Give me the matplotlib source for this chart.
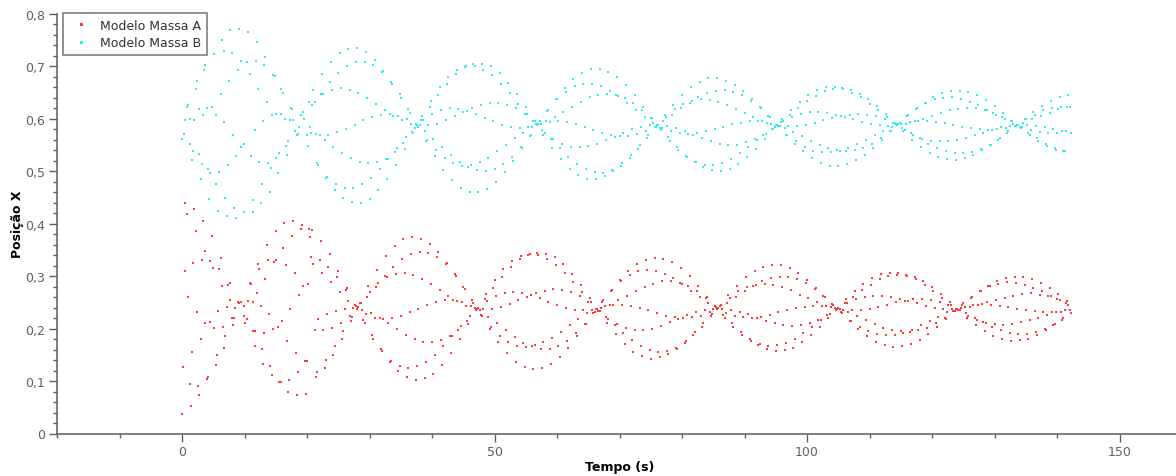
#!/usr/bin/env python3

import matplotlib
matplotlib.use('agg')

import numpy as np
import matplotlib.pyplot as plt
from matplotlib.ticker import MultipleLocator, FuncFormatter

# --- Modelo Massa A: inicio do registo (tempo lido ponto a ponto) ---
massa_a_t = [
	0.0, 0.11, 0.43, 0.53, 0.85, 0.96, 1.28, 1.39, 1.6, 1.81, 1.92, 2.24, 2.35, 2.61, 2.77,
	3.04, 3.2, 3.31, 3.63, 3.73, 3.95, 4.1, 4.43, 4.53, 4.8, 5.01, 5.17, 5.39, 5.6, 5.81,
	5.97, 6.24, 6.35, 6.61, 6.77, 6.93, 7.15, 7.31, 7.68, 7.73, 8.0, 8.27, 8.21, 8.9, 9.17,
	9.49, 9.87, 8.53, 9.97, 10.08,
	16.37, 17.76, 19.15, 18.99, 20.32, 14.99, 17.65, 20.43, 13.55, 16.21, 12.16, 13.76, 14.77,
	15.09, 16.69, 12.37, 18.03, 13.28, 10.88, 11.04, 19.41, 20.16, 11.95, 18.77, 10.56, 11.31,
	12.59, 17.28, 13.97, 10.35, 15.95, 15.31, 14.61, 11.41, 11.68, 13.17, 16.8, 11.63, 12.75,
	18.19, 19.68, 19.95, 13.01, 14.13, 18.56, 14.45, 15.57, 15.79, 17.17, 16.91, 18.35, 19.89,
]
massa_a_x = [
	0.038, 0.126, 0.309, 0.440, 0.418, 0.261, 0.095, 0.052, 0.156, 0.325, 0.428, 0.386, 0.231,
	0.090, 0.073, 0.181, 0.331, 0.405, 0.348, 0.210, 0.103, 0.107, 0.212, 0.329, 0.376, 0.316,
	0.201, 0.131, 0.150, 0.234, 0.313, 0.334, 0.281, 0.203, 0.164, 0.186, 0.241, 0.284, 0.287,
	0.254, 0.220, 0.220, 0.206, 0.250, 0.249, 0.250, 0.243, 0.240, 0.224, 0.210,
	0.401, 0.405, 0.397, 0.390, 0.390, 0.386, 0.376, 0.375, 0.360, 0.354, 0.323, 0.331, 0.327,
	0.331, 0.322, 0.313, 0.306, 0.295, 0.287, 0.285, 0.281, 0.285, 0.268, 0.264, 0.252, 0.250,
	0.243, 0.238, 0.228, 0.218, 0.215, 0.204, 0.199, 0.196, 0.196, 0.192, 0.177, 0.166, 0.161,
	0.153, 0.138, 0.139, 0.133, 0.129, 0.118, 0.111, 0.099, 0.099, 0.102, 0.079, 0.073, 0.076,
]

# --- Modelo Massa B: inicio do registo ---
massa_b_t = [
	7.73, 9.17, 6.35, 5.07, 6.67, 8.05, 9.39, 3.73, 8.96, 3.57, 2.35, 7.57, 2.19, 6.24, 0.91,
	0.8, 2.67, 4.0, 4.8, 3.31, 5.39, 0.48, 1.28, 1.97, 6.77, 0.37, 0.05, 8.16, 1.33, 9.49,
	9.97, 1.81, 2.77, 8.69, 1.65, 3.15, 7.36, 4.21, 4.53, 5.92, 3.04, 5.49, 4.37, 6.93, 8.27,
	5.81, 9.87, 7.15, 8.64,
	10.56, 11.95, 10.35, 11.79, 13.28, 13.17, 10.88, 14.61, 14.83, 12.21, 15.89, 16.21, 13.55,
	20.37, 17.39, 17.55, 19.31, 19.04, 14.35, 15.04, 15.79, 16.43, 17.28, 17.81, 13.01, 19.52,
	18.77, 18.08, 20.48, 11.68, 18.35, 18.61, 19.95, 17.01, 16.59, 20.21, 15.57, 16.75, 10.99,
	15.04, 12.32, 13.81, 14.24, 15.41, 12.75, 14.08, 11.41, 12.64, 11.31,
]
massa_b_x = [
	0.769, 0.772, 0.751, 0.724, 0.729, 0.726, 0.710, 0.703, 0.693, 0.693, 0.672, 0.672, 0.657,
	0.648, 0.626, 0.622, 0.619, 0.621, 0.622, 0.607, 0.608, 0.598, 0.599, 0.597, 0.594, 0.572,
	0.562, 0.570, 0.552, 0.547, 0.552, 0.538, 0.533, 0.530, 0.522, 0.514, 0.512, 0.504, 0.497,
	0.499, 0.486, 0.475, 0.448, 0.449, 0.430, 0.424, 0.422, 0.414, 0.411,
	0.766, 0.746, 0.708, 0.711, 0.718, 0.703, 0.686, 0.684, 0.682, 0.657, 0.657, 0.650, 0.632,
	0.632, 0.621, 0.619, 0.614, 0.608, 0.607, 0.610, 0.609, 0.599, 0.597, 0.597, 0.595, 0.599,
	0.584, 0.577, 0.585, 0.578, 0.570, 0.572, 0.570, 0.557, 0.548, 0.548, 0.535, 0.532, 0.530,
	0.526, 0.518, 0.516, 0.506, 0.497, 0.475, 0.461, 0.446, 0.439, 0.423,
]

# --- resto do registo: amostras a cada 0,2 s a partir de t = 20,6 s ---
amostra_t0 = 20.6
amostra_passo = 0.2

amostras_a = [
	0.337, 0.389,
	0.324, 0.198, 0.107, 0.117, 0.218, 0.330, 0.368, 0.307, 0.198, 0.125, 0.140, 0.227, 0.317, 0.342,
	0.288, 0.202, 0.150, 0.167, 0.234, 0.298, 0.310, 0.269, 0.211, 0.180, 0.195, 0.238, 0.274, 0.277,
	0.252, 0.224, 0.214, 0.223, 0.239, 0.246, 0.243, 0.238, 0.241, 0.248, 0.249, 0.236, 0.217, 0.210,
	0.228, 0.260, 0.281, 0.270, 0.229, 0.188, 0.181, 0.221, 0.280, 0.312, 0.287, 0.220, 0.161, 0.158,
	0.219, 0.300, 0.338, 0.299, 0.210, 0.137, 0.139, 0.220, 0.318, 0.357, 0.305, 0.199, 0.119, 0.129,
	0.224, 0.332, 0.370, 0.306, 0.188, 0.107, 0.125, 0.231, 0.342, 0.374, 0.302, 0.180, 0.102, 0.128,
	0.238, 0.346, 0.371, 0.295, 0.175, 0.105, 0.137, 0.245, 0.345, 0.362, 0.285, 0.174, 0.114, 0.150,
	0.251, 0.337, 0.346, 0.273, 0.178, 0.131, 0.167, 0.254, 0.323, 0.325, 0.262, 0.186, 0.154, 0.186,
	0.254, 0.304, 0.301, 0.252, 0.198, 0.180, 0.205, 0.251, 0.280, 0.275, 0.244, 0.215, 0.209, 0.224,
	0.244, 0.254, 0.249, 0.239, 0.235, 0.238, 0.240, 0.235, 0.226, 0.224, 0.237, 0.256, 0.266, 0.253,
	0.223, 0.199, 0.203, 0.238, 0.278, 0.292, 0.263, 0.210, 0.174, 0.186, 0.241, 0.299, 0.313, 0.268,
	0.197, 0.153, 0.174, 0.247, 0.317, 0.329, 0.270, 0.184, 0.137, 0.167, 0.254, 0.332, 0.339, 0.268,
	0.173, 0.126, 0.165, 0.261, 0.341, 0.343, 0.264, 0.166, 0.123, 0.168, 0.267, 0.344, 0.340, 0.258,
	0.161, 0.124, 0.174, 0.272, 0.343, 0.333, 0.251, 0.161, 0.132, 0.183, 0.275, 0.336, 0.321, 0.245,
	0.167, 0.145, 0.194, 0.274, 0.323, 0.306, 0.239, 0.177, 0.163, 0.207, 0.270, 0.305, 0.288, 0.236,
	0.191, 0.185, 0.218, 0.262, 0.283, 0.269, 0.235, 0.209, 0.208, 0.229, 0.251, 0.259, 0.250, 0.236,
	0.229, 0.232, 0.237, 0.238, 0.234, 0.233, 0.240, 0.251, 0.254, 0.243, 0.223, 0.210, 0.219, 0.246,
	0.272, 0.274, 0.246, 0.207, 0.189, 0.208, 0.254, 0.292, 0.290, 0.246, 0.192, 0.170, 0.201, 0.263,
	0.309, 0.302, 0.244, 0.178, 0.156, 0.197, 0.272, 0.323, 0.309, 0.240, 0.167, 0.147, 0.197, 0.280,
	0.331, 0.312, 0.235, 0.159, 0.143, 0.200, 0.286, 0.335, 0.310, 0.230, 0.156, 0.145, 0.205, 0.290,
	0.333, 0.304, 0.225, 0.157, 0.151, 0.212, 0.290, 0.327, 0.296, 0.222, 0.163, 0.162, 0.219, 0.287,
	0.315, 0.285, 0.221, 0.173, 0.176, 0.226, 0.281, 0.300, 0.272, 0.222, 0.187, 0.193, 0.231, 0.271,
	0.281, 0.260, 0.225, 0.204, 0.211, 0.236, 0.258, 0.261, 0.248, 0.231, 0.224, 0.228, 0.238, 0.243,
	0.241, 0.238, 0.239, 0.244, 0.245, 0.238, 0.226, 0.221, 0.230, 0.249, 0.264, 0.259, 0.236, 0.210,
	0.203, 0.225, 0.260, 0.282, 0.271, 0.232, 0.194, 0.188, 0.222, 0.271, 0.298, 0.279, 0.227, 0.180,
	0.177, 0.221, 0.281, 0.310, 0.284, 0.221, 0.169, 0.170, 0.223, 0.290, 0.318, 0.285, 0.215, 0.161,
	0.167, 0.226, 0.296, 0.322, 0.283, 0.210, 0.158, 0.168, 0.231, 0.299, 0.321, 0.279, 0.207, 0.159,
	0.173, 0.235, 0.299, 0.315, 0.273, 0.205, 0.164, 0.181, 0.239, 0.295, 0.306, 0.265, 0.206, 0.174,
	0.191, 0.242, 0.287, 0.293, 0.258, 0.210, 0.187, 0.203, 0.244, 0.276, 0.278, 0.250, 0.217, 0.203,
	0.216, 0.243, 0.263, 0.261, 0.244, 0.226, 0.220, 0.228, 0.241, 0.247, 0.245, 0.239, 0.236, 0.238,
	0.240, 0.237, 0.231, 0.229, 0.236, 0.249, 0.256, 0.249, 0.231, 0.215, 0.215, 0.235, 0.261, 0.272,
	0.256, 0.224, 0.199, 0.203, 0.236, 0.273, 0.286, 0.261, 0.216, 0.186, 0.195, 0.238, 0.284, 0.296,
	0.263, 0.209, 0.175, 0.189, 0.242, 0.294, 0.304, 0.263, 0.202, 0.168, 0.187, 0.246, 0.300, 0.307,
	0.260, 0.197, 0.165, 0.188, 0.250, 0.303, 0.306, 0.257, 0.195, 0.166, 0.192, 0.253, 0.302, 0.301,
	0.252, 0.194, 0.170, 0.198, 0.256, 0.298, 0.294, 0.248, 0.197, 0.179, 0.206, 0.256, 0.290, 0.284,
	0.243, 0.202, 0.190, 0.214, 0.254, 0.279, 0.272, 0.240, 0.211, 0.204, 0.223, 0.251, 0.266, 0.259,
	0.238, 0.221, 0.219, 0.231, 0.245, 0.251, 0.246, 0.238, 0.233, 0.234, 0.237, 0.238, 0.236, 0.235,
	0.239, 0.246, 0.248, 0.242, 0.230, 0.221, 0.225, 0.241, 0.258, 0.261, 0.245, 0.221, 0.207, 0.217,
	0.245, 0.271, 0.272, 0.247, 0.212, 0.195, 0.211, 0.250, 0.282, 0.281, 0.246, 0.203, 0.185, 0.208,
	0.255, 0.290, 0.286, 0.244, 0.197, 0.180, 0.207, 0.259, 0.296, 0.288, 0.242, 0.192, 0.177, 0.209,
	0.263, 0.298, 0.287, 0.238, 0.189, 0.178, 0.212, 0.266, 0.298, 0.284, 0.235, 0.190, 0.181, 0.216,
	0.267, 0.294, 0.278, 0.233, 0.193, 0.188, 0.221, 0.265, 0.287, 0.271, 0.231, 0.199, 0.197, 0.226,
	0.262, 0.277, 0.263, 0.231, 0.207, 0.208, 0.231, 0.257, 0.266, 0.254, 0.232, 0.217, 0.220, 0.235,
	0.249, 0.253, 0.245, 0.235, 0.229,
]

amostras_b = [
	0.573, 0.626,
	0.655, 0.633, 0.571, 0.515, 0.512, 0.570, 0.648, 0.685, 0.647, 0.560, 0.487, 0.490, 0.570, 0.670,
	0.709, 0.656, 0.547, 0.465, 0.476, 0.575, 0.688, 0.726, 0.659, 0.535, 0.449, 0.468, 0.581, 0.701,
	0.734, 0.656, 0.525, 0.441, 0.469, 0.589, 0.709, 0.735, 0.650, 0.518, 0.440, 0.476, 0.597, 0.709,
	0.727, 0.640, 0.515, 0.448, 0.488, 0.603, 0.703, 0.712, 0.628, 0.517, 0.464, 0.505, 0.607, 0.690,
	0.692, 0.617, 0.524, 0.485, 0.524, 0.609, 0.671, 0.667, 0.606, 0.537, 0.512, 0.545, 0.606, 0.647,
	0.639, 0.597, 0.554, 0.543, 0.565, 0.600, 0.618, 0.611, 0.590, 0.575, 0.574, 0.583, 0.590, 0.588,
	0.584, 0.588, 0.598, 0.606, 0.598, 0.577, 0.558, 0.560, 0.588, 0.623, 0.635, 0.610, 0.562, 0.529,
	0.540, 0.591, 0.646, 0.660, 0.617, 0.546, 0.503, 0.525, 0.597, 0.667, 0.680, 0.620, 0.532, 0.483,
	0.515, 0.605, 0.686, 0.694, 0.619, 0.518, 0.468, 0.511, 0.613, 0.698, 0.700, 0.615, 0.508, 0.461,
	0.512, 0.621, 0.705, 0.700, 0.609, 0.502, 0.461, 0.518, 0.627, 0.705, 0.694, 0.602, 0.501, 0.467,
	0.526, 0.630, 0.700, 0.683, 0.595, 0.504, 0.479, 0.538, 0.630, 0.687, 0.667, 0.589, 0.514, 0.498,
	0.551, 0.627, 0.669, 0.649, 0.585, 0.528, 0.520, 0.563, 0.620, 0.647, 0.629, 0.583, 0.546, 0.545,
	0.574, 0.609, 0.622, 0.609, 0.584, 0.568, 0.570, 0.584, 0.595, 0.596, 0.590, 0.588, 0.591, 0.595,
	0.591, 0.579, 0.569, 0.574, 0.595, 0.615, 0.617, 0.594, 0.561, 0.544, 0.561, 0.603, 0.638, 0.637,
	0.595, 0.544, 0.523, 0.552, 0.613, 0.659, 0.652, 0.594, 0.528, 0.505, 0.547, 0.623, 0.676, 0.662,
	0.590, 0.514, 0.493, 0.546, 0.633, 0.688, 0.667, 0.584, 0.504, 0.486, 0.548, 0.641, 0.695, 0.667,
	0.579, 0.498, 0.486, 0.552, 0.646, 0.695, 0.662, 0.573, 0.497, 0.491, 0.559, 0.648, 0.690, 0.654,
	0.569, 0.502, 0.501, 0.566, 0.646, 0.679, 0.643, 0.567, 0.511, 0.515, 0.574, 0.640, 0.664, 0.630,
	0.568, 0.525, 0.532, 0.580, 0.630, 0.645, 0.617, 0.571, 0.543, 0.551, 0.585, 0.617, 0.623, 0.604,
	0.577, 0.563, 0.570, 0.588, 0.601, 0.601, 0.592, 0.585, 0.585, 0.588, 0.588, 0.583, 0.579, 0.583,
	0.596, 0.607, 0.604, 0.586, 0.565, 0.558, 0.576, 0.608, 0.627, 0.618, 0.582, 0.547, 0.541, 0.573,
	0.620, 0.646, 0.628, 0.577, 0.530, 0.527, 0.571, 0.631, 0.661, 0.634, 0.570, 0.517, 0.517, 0.573,
	0.642, 0.671, 0.637, 0.564, 0.508, 0.512, 0.576, 0.649, 0.677, 0.636, 0.558, 0.502, 0.512, 0.580,
	0.654, 0.677, 0.632, 0.553, 0.501, 0.516, 0.585, 0.655, 0.673, 0.626, 0.551, 0.505, 0.523, 0.590,
	0.652, 0.665, 0.619, 0.551, 0.514, 0.534, 0.593, 0.646, 0.653, 0.611, 0.555, 0.527, 0.546, 0.595,
	0.635, 0.637, 0.603, 0.561, 0.542, 0.559, 0.595, 0.622, 0.620, 0.596, 0.570, 0.561, 0.572, 0.593,
	0.605, 0.603, 0.591, 0.581, 0.580, 0.585, 0.589, 0.588, 0.586, 0.587, 0.594, 0.599, 0.595, 0.583,
	0.570, 0.570, 0.586, 0.607, 0.617, 0.604, 0.575, 0.553, 0.557, 0.586, 0.621, 0.633, 0.610, 0.567,
	0.538, 0.546, 0.589, 0.634, 0.646, 0.613, 0.558, 0.525, 0.539, 0.592, 0.644, 0.655, 0.613, 0.551,
	0.516, 0.536, 0.597, 0.653, 0.660, 0.611, 0.544, 0.511, 0.536, 0.601, 0.657, 0.660, 0.608, 0.540,
	0.510, 0.539, 0.605, 0.658, 0.657, 0.604, 0.539, 0.513, 0.544, 0.608, 0.655, 0.650, 0.599, 0.541,
	0.521, 0.552, 0.609, 0.648, 0.641, 0.594, 0.545, 0.532, 0.560, 0.608, 0.638, 0.629, 0.590, 0.553,
	0.545, 0.569, 0.605, 0.625, 0.616, 0.588, 0.564, 0.560, 0.577, 0.599, 0.609, 0.603, 0.587, 0.576,
	0.576, 0.584, 0.592, 0.593, 0.590, 0.588, 0.590, 0.592, 0.590, 0.583, 0.576, 0.578, 0.591, 0.605,
	0.607, 0.594, 0.573, 0.560, 0.569, 0.595, 0.619, 0.620, 0.596, 0.563, 0.546, 0.562, 0.600, 0.631,
	0.630, 0.596, 0.553, 0.535, 0.558, 0.606, 0.642, 0.637, 0.594, 0.545, 0.528, 0.557, 0.611, 0.649,
	0.640, 0.592, 0.539, 0.523, 0.557, 0.616, 0.653, 0.641, 0.588, 0.535, 0.522, 0.560, 0.619, 0.654,
	0.638, 0.585, 0.534, 0.525, 0.564, 0.621, 0.651, 0.633, 0.582, 0.536, 0.531, 0.569, 0.620, 0.645,
	0.626, 0.580, 0.542, 0.540, 0.574, 0.617, 0.636, 0.617, 0.579, 0.550, 0.551, 0.579, 0.612, 0.624,
	0.608, 0.580, 0.560, 0.563, 0.584, 0.604, 0.611, 0.599, 0.582, 0.573, 0.576, 0.587, 0.595, 0.596,
	0.591, 0.587, 0.586, 0.588, 0.588, 0.585, 0.582, 0.584, 0.592, 0.600, 0.599, 0.588, 0.574, 0.569,
	0.579, 0.599, 0.613, 0.608, 0.587, 0.563, 0.557, 0.575, 0.606, 0.624, 0.616, 0.584, 0.553, 0.548,
	0.574, 0.612, 0.634, 0.621, 0.581, 0.545, 0.541, 0.574, 0.618, 0.641, 0.623, 0.577, 0.539, 0.538,
	0.576, 0.623, 0.645, 0.622, 0.574,
]

series_labels = ['Modelo Massa A', 'Modelo Massa B']
series_colors = ['#ff3838', '#30ecec']

W, H = 1176, 477
AXIS_GREY = '#5c5c5c'


def comma_decimal(value, pos):
	return ('%g' % round(value, 6)).replace('.', ',')


def plot_posicao(outfile='out.png'):
	fig = plt.figure(figsize=(W / 100, H / 100), dpi=100)
	ax = fig.add_axes([57 / W, 42.5 / H, 1 - 57 / W, 419.5 / H])

	series = [
		(massa_a_t, massa_a_x, amostras_a),
		(massa_b_t, massa_b_x, amostras_b),
	]
	for (t_lido, x_lido, amostras), label, color in zip(series, series_labels, series_colors):
		t_amostras = amostra_t0 + amostra_passo * np.arange(len(amostras))
		t = np.concatenate([t_lido, t_amostras])
		x = np.concatenate([x_lido, amostras])
		ax.plot(t, x, ls='none', marker='s', ms=1.8, mew=0, color=color, label=label)

	ax.set_xlim(-20, (W - 182) / 6.25)
	ax.set_ylim(0, 0.8)

	for side in ('top', 'right'):
		ax.spines[side].set_visible(False)
	for side in ('left', 'bottom'):
		ax.spines[side].set_color(AXIS_GREY)
		ax.spines[side].set_linewidth(1.1)

	ax.xaxis.set_major_locator(MultipleLocator(50))
	ax.xaxis.set_minor_locator(MultipleLocator(10))
	ax.yaxis.set_major_locator(MultipleLocator(0.1))
	ax.yaxis.set_minor_locator(MultipleLocator(0.02))
	ax.xaxis.set_major_formatter(FuncFormatter(comma_decimal))
	ax.yaxis.set_major_formatter(FuncFormatter(comma_decimal))
	ax.tick_params(which='both', direction='out', color=AXIS_GREY, width=1.0,
		labelcolor='#606060', labelsize=9)
	ax.tick_params(which='major', length=5.5, pad=3)
	ax.tick_params(which='minor', length=3.2)

	ax.set_xlabel('Tempo (s)', fontsize=9, fontweight='bold', va='center')
	ax.xaxis.set_label_coords((620 - 57) / (W - 57), (9 - 42.5) / 419.5)
	ax.set_ylabel('Posição X', fontsize=9, fontweight='bold', va='center')
	ax.yaxis.set_label_coords((17 - 57) / (W - 57), 0.5)

	leg = ax.legend(loc='upper left', bbox_to_anchor=((63 - 57) / (W - 57), (463 - 42.5) / 419.5),
		borderaxespad=0, fontsize=9, frameon=True, fancybox=False, borderpad=0.45,
		handlelength=2.0, handletextpad=0.55, labelspacing=0.35, markerscale=1.2)
	leg.get_frame().set_edgecolor('#6a6a6a')
	leg.get_frame().set_linewidth(1.3)
	for text in leg.get_texts():
		text.set_color('#333333')

	fig.savefig(outfile, dpi=100)


if __name__ == '__main__':
	plot_posicao('out.png')
